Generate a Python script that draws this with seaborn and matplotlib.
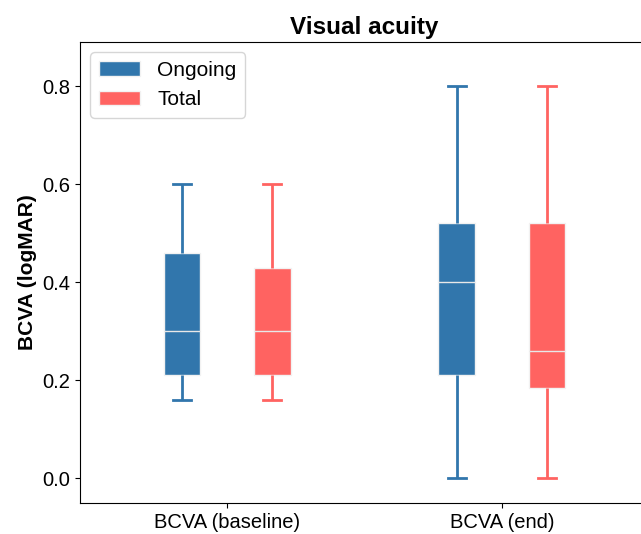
import pandas as pd
import seaborn as sns
import matplotlib.pyplot as plt

# values (min, q1, median, q3, max per box)
timepoints = ['BCVA (baseline)', 'BCVA (end)']
groups = ['Ongoing', 'Total']
baseline_ongoing = [0.16, 0.21, 0.30, 0.46, 0.60]
baseline_total = [0.16, 0.21, 0.30, 0.43, 0.60]
end_ongoing = [0.00, 0.21, 0.40, 0.52, 0.80]
end_total = [0.00, 0.185, 0.26, 0.52, 0.80]

my_palette = {'Ongoing': '#3176ac', 'Total': '#ff6361'}

rows = []
for tp, grp, vals in [(timepoints[0], 'Ongoing', baseline_ongoing),
                      (timepoints[0], 'Total', baseline_total),
                      (timepoints[1], 'Ongoing', end_ongoing),
                      (timepoints[1], 'Total', end_total)]:
    for v in vals:
        rows.append({'Time': tp, 'Group': grp, 'BCVA': v})
df = pd.DataFrame(rows)

plt.rcParams['font.family'] = ['Liberation Sans', 'DejaVu Sans']

fig = plt.figure(figsize=(6.41, 5.34), dpi=100)
ax = fig.add_axes([80 / 641, 31 / 534, 569 / 641, 461 / 534])

sns.boxplot(data=df, x='Time', y='BCVA', hue='Group', order=timepoints,
            hue_order=groups, palette=my_palette, width=0.66, gap=0.6,
            saturation=1, whis=1.5, linewidth=1, linecolor='#f2f2f2', ax=ax,
            medianprops={'color': '#e8e8e8', 'linewidth': 1})

# colour whiskers and caps like their boxes
for cont, grp in zip(ax.containers, groups):
    for ln in list(cont.whiskers) + list(cont.caps):
        ln.set_color(my_palette[grp])
        ln.set_linewidth(2)

ax.set_xlim(-0.535, 1.535)
ax.set_ylim(-0.05, 0.89)
ax.set_yticks([0.0, 0.2, 0.4, 0.6, 0.8])
ax.set_title('Visual acuity', fontsize=17.5, fontweight='bold', pad=6)
ax.set_ylabel('BCVA (logMAR)', fontsize=15, fontweight='bold')
ax.set_xlabel('')
ax.tick_params(labelsize=14.5)

handles, labels = ax.get_legend_handles_labels()
ax.legend(handles, labels, loc='upper left', fontsize=15, handlelength=2)

plt.savefig('out.png', dpi=100)
